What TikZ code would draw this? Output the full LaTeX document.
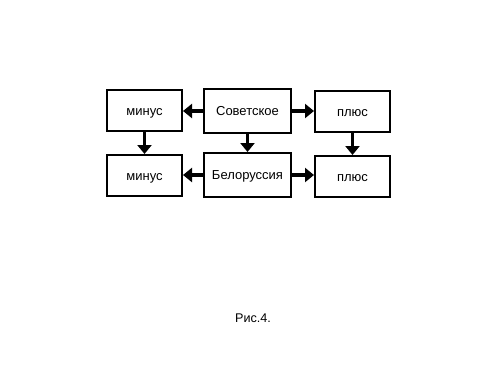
\documentclass[tikz,border=0pt]{standalone}
\usepackage{fontspec}
\setmainfont{Liberation Sans}
\usetikzlibrary{arrows.meta}
\begin{document}
\begin{tikzpicture}[x=1pt,y=-1pt,
  box/.style={draw=black,line width=2pt,fill=white,inner sep=0pt,text height=9.5pt,text depth=0pt,font=\fontsize{13}{15}\selectfont},
  small/.style={box,minimum width=75pt,minimum height=41pt},
  wide/.style={box,minimum width=87pt,minimum height=44pt},
  arr/.style={line width=3.5pt,-{Triangle[length=9pt,width=14pt]}}]
\useasboundingbox[fill=white] (0,0) rectangle (500,375);
\node[small] (lt) at (144.5,110.5) {минус};
\node[wide] (ct) at (247.5,111) {Советское};
\node[small] (rt) at (352.5,111.5) {плюс};
\node[small] (lb) at (144.5,175.5) {минус};
\node[wide] (cb) at (247.5,175) {Белоруссия};
\node[small] (rb) at (352.5,176.5) {плюс};
\draw[arr] (ct.west) -- (lt.east |- ct.west);
\draw[arr] (ct.east) -- (rt.west |- ct.east);
\draw[arr] (cb.west) -- (lb.east |- cb.west);
\draw[arr] (cb.east) -- (rb.west |- cb.east);
\draw[arr] (lt.south) -- (lb.north);
\draw[arr] (ct.south) -- (cb.north);
\draw[arr] (rt.south) -- (rb.north);
\node[font=\fontsize{12.6}{14}\selectfont] (cap) at (253,318) {Рис.4.};
\end{tikzpicture}
\end{document}
